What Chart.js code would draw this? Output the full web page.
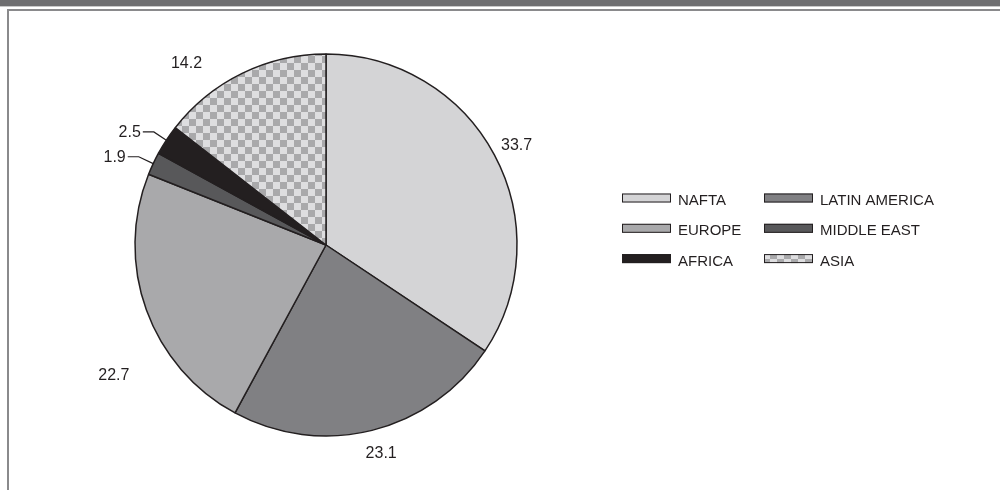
<!DOCTYPE html>
<html>
<head>
<meta charset="utf-8">
<script src="https://cdn.jsdelivr.net/npm/chart.js@4.4.0/dist/chart.umd.min.js"></script>
<style>
  html, body { margin: 0; padding: 0; background: #fff; }
  #wrap { width: 1000px; height: 490px; position: relative; }
</style>
</head>
<body>
<div id="wrap"><canvas id="pie"></canvas></div>
<script>
// data, clockwise from 12 o'clock
const regions = ["NAFTA", "LATIN AMERICA", "EUROPE", "MIDDLE EAST", "AFRICA", "ASIA"];
const shares = [33.7, 23.1, 22.7, 1.9, 2.5, 14.2];
const shareLabels = ["33.7", "23.1", "22.7", "1.9", "2.5", "14.2"];

// checker pattern for ASIA
function checker() {
  const c = document.createElement("canvas");
  c.width = 14; c.height = 14;
  const g = c.getContext("2d");
  g.fillStyle = "#dedee0";
  g.fillRect(0, 0, 14, 14);
  g.fillStyle = "#a9a9ab";
  g.fillRect(0, 0, 7, 7);
  g.fillRect(7, 7, 7, 7);
  return g.createPattern(c, "repeat");
}
const asiaFill = checker();
const fills = ["#d4d4d6", "#808083", "#a9a9ab", "#58585a", "#231f20", asiaFill];

const ink = "#231f20";
const legendFont = "15px 'Liberation Sans', Arial, sans-serif";
const labelFont = "16px 'Liberation Sans', Arial, sans-serif";

// frame + top band
const framePlugin = {
  id: "frame",
  beforeDraw(chart) {
    const ctx = chart.ctx;
    ctx.save();
    ctx.fillStyle = "#fff";
    ctx.fillRect(0, 0, chart.width, chart.height);
    ctx.fillStyle = "#6e6e70";
    ctx.fillRect(0, 0, chart.width, 6);
    ctx.fillStyle = "#c8c8c8";
    ctx.fillRect(0, 6, chart.width, 1);
    ctx.strokeStyle = "#8a8a8c";
    ctx.lineWidth = 2;
    ctx.beginPath();
    ctx.moveTo(8, chart.height);
    ctx.lineTo(8, 10);
    ctx.lineTo(chart.width, 10);
    ctx.stroke();
    ctx.restore();
  }
};

// value labels outside the slices, two of them with leader lines
const labelPlugin = {
  id: "sliceLabels",
  afterDatasetsDraw(chart, args, opts) {
    const ctx = chart.ctx;
    const arcs = chart.getDatasetMeta(0).data;
    ctx.save();
    ctx.font = labelFont;
    ctx.fillStyle = ink;
    ctx.strokeStyle = ink;
    ctx.lineWidth = 1.2;
    arcs.forEach((arc, i) => {
      const spot = opts.spots[i];
      const a = arc.startAngle + (arc.endAngle - arc.startAngle) * spot.frac;
      const R = arc.outerRadius;
      if (spot.leader) {
        const px = arc.x + Math.cos(a) * R, py = arc.y + Math.sin(a) * R;
        const ex = arc.x + Math.cos(a) * (R + spot.dist), ey = arc.y + Math.sin(a) * (R + spot.dist);
        ctx.beginPath();
        ctx.moveTo(px, py);
        ctx.lineTo(ex, ey);
        ctx.lineTo(ex - 11, ey);
        ctx.stroke();
        ctx.textAlign = "right";
        ctx.textBaseline = "middle";
        ctx.fillText(shareLabels[i], ex - 13, ey + 1);
      } else {
        const tx = arc.x + Math.cos(a) * (R + spot.dist);
        const ty = arc.y + Math.sin(a) * (R + spot.dist);
        ctx.textAlign = "center";
        ctx.textBaseline = "middle";
        ctx.fillText(shareLabels[i], tx, ty);
      }
    });
    ctx.restore();
  }
};

// two-column legend
const legendPlugin = {
  id: "gridLegend",
  afterDraw(chart, args, opts) {
    const ctx = chart.ctx;
    const ds = chart.data.datasets[0];
    ctx.save();
    ctx.font = legendFont;
    ctx.textAlign = "left";
    ctx.textBaseline = "alphabetic";
    chart.data.labels.forEach((lab, i) => {
      const col = i % 2, row = Math.floor(i / 2);
      const x = opts.x + col * opts.colGap;
      const y = opts.y + row * opts.rowGap;
      ctx.fillStyle = ds.backgroundColor[i];
      ctx.fillRect(x, y, 49, 9);
      ctx.strokeStyle = ink;
      ctx.lineWidth = 1;
      ctx.strokeRect(x + 0.5, y + 0.5, 48, 8);
      ctx.fillStyle = ink;
      ctx.fillText(lab, x + 56, y + 11.5);
    });
    ctx.restore();
  }
};

new Chart(document.getElementById("pie"), {
  type: "pie",
  data: {
    labels: regions,
    datasets: [{
      data: shares,
      backgroundColor: fills,
      borderColor: ink,
      borderWidth: 1.5,
      hoverBorderWidth: 1.5,
      hoverOffset: 0
    }]
  },
  options: {
    responsive: true,
    maintainAspectRatio: false,
    animation: false,
    events: [],
    radius: 191,
    layout: { padding: { left: 10, right: 358, top: 0, bottom: 0 } },
    plugins: {
      legend: { display: false },
      tooltip: { enabled: false },
      sliceLabels: {
        spots: [
          { frac: 0.505, dist: 24 },
          { frac: 0.49, dist: 25 },
          { frac: 0.36, dist: 58 },
          { frac: 0.5, dist: 16, leader: true },
          { frac: 0.5, dist: 15, leader: true },
          { frac: 0.28, dist: 38 }
        ]
      },
      gridLegend: { x: 622, y: 193.5, colGap: 142, rowGap: 30.3 }
    }
  },
  plugins: [framePlugin, labelPlugin, legendPlugin]
});
</script>
</body>
</html>
